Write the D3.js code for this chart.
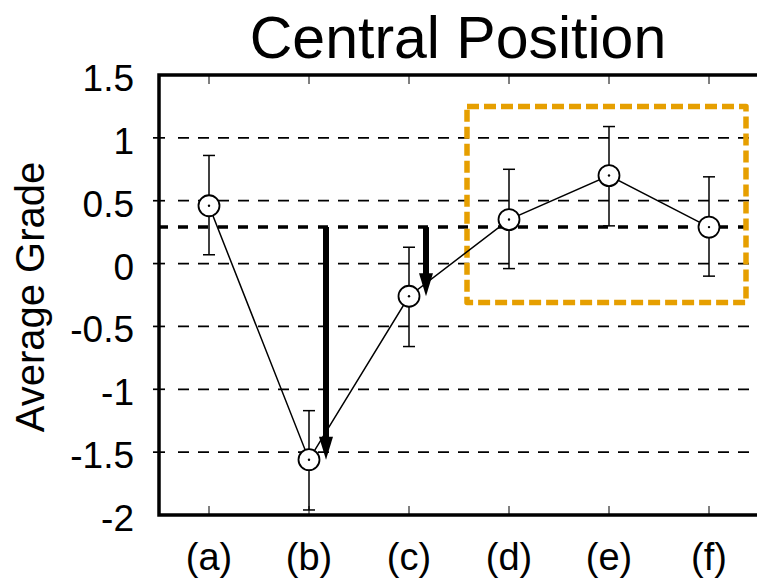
<!DOCTYPE html>
<html>
<head>
<meta charset="utf-8">
<script src="https://cdn.jsdelivr.net/npm/d3@7"></script>
<style>
  body { margin: 0; background: #fff; }
  text { font-family: "Liberation Sans", Arial, sans-serif; fill: #000; }
</style>
</head>
<body>
<div id="vis"></div>
<script>
// data
const categories = ["(a)", "(b)", "(c)", "(d)", "(e)", "(f)"];
const means = [0.46, -1.56, -0.26, 0.35, 0.70, 0.29];
const errLow = [0.07, -1.96, -0.66, -0.04, 0.30, -0.10];
const errHigh = [0.86, -1.17, 0.13, 0.75, 1.09, 0.69];
const yTicks = [1.5, 1, 0.5, 0, -0.5, -1, -1.5, -2];
const baseline = 0.29;           // thick dashed reference line
const arrowTargets = [1, 2];     // indexes of (b) and (c)
const box = { x0: 2.58, x1: 5.37, y0: -0.31, y1: 1.25 };

let width = 757;
let height = 579;

var svg = d3.select("#vis")
    .append("svg")
    .attr("width", width)
    .attr("height", height);

var x = d3.scaleLinear()
    .domain([-0.5, categories.length - 0.5])
    .range([159, 759]);

var y = d3.scaleLinear()
    .domain([-2, 1.5])
    .range([515, 75]);

var inner = yTicks.filter(d => d > -2 && d < 1.5);

// grid
svg.selectAll("line.grid")
    .data(inner)
    .enter().append("line")
    .attr("class", "grid")
    .attr("x1", 178).attr("x2", width)
    .attr("y1", d => y(d)).attr("y2", d => y(d))
    .attr("stroke", "#000")
    .attr("stroke-width", 1.7)
    .attr("stroke-dasharray", "11,9");

// small y ticks across the axis
svg.selectAll("line.ytick")
    .data(inner)
    .enter().append("line")
    .attr("class", "ytick")
    .attr("x1", 153).attr("x2", 165)
    .attr("y1", d => y(d)).attr("y2", d => y(d))
    .attr("stroke", "#000")
    .attr("stroke-width", 1.7);

// baseline
svg.append("line")
    .attr("x1", 158).attr("x2", width)
    .attr("y1", y(baseline)).attr("y2", y(baseline))
    .attr("stroke", "#000")
    .attr("stroke-width", 3.5)
    .attr("stroke-dasharray", "10,10");

// frame
svg.append("path")
    .attr("d", `M${width + 5},${y(1.5)}H${x(-0.5)}V${y(-2)}H${width + 5}`)
    .attr("fill", "none")
    .attr("stroke", "#000")
    .attr("stroke-width", 3.5);

// x ticks (top and bottom, inward)
categories.forEach(function (c, i) {
    svg.append("line")
        .attr("x1", x(i)).attr("x2", x(i))
        .attr("y1", y(-2)).attr("y2", y(-2) - 9)
        .attr("stroke", "#000").attr("stroke-width", 1);
    svg.append("line")
        .attr("x1", x(i)).attr("x2", x(i))
        .attr("y1", y(1.5)).attr("y2", y(1.5) + 9)
        .attr("stroke", "#000").attr("stroke-width", 1);
});

// x labels
svg.selectAll("text.xlab")
    .data(categories)
    .enter().append("text")
    .attr("class", "xlab")
    .attr("x", (d, i) => x(i))
    .attr("y", 570)
    .attr("text-anchor", "middle")
    .attr("font-size", 38)
    .text(d => d);

// y labels
svg.selectAll("text.ylab")
    .data(yTicks)
    .enter().append("text")
    .attr("class", "ylab")
    .attr("x", 134)
    .attr("y", d => y(d) + 16)
    .attr("text-anchor", "end")
    .attr("font-size", 37)
    .text(d => d);

// axis title
svg.append("text")
    .attr("transform", "translate(44,297) rotate(-90)")
    .attr("text-anchor", "middle")
    .attr("font-size", 40)
    .text("Average Grade");

// title
svg.append("text")
    .attr("x", 458)
    .attr("y", 58)
    .attr("text-anchor", "middle")
    .attr("font-size", 59)
    .text("Central Position");

// highlight box
svg.append("rect")
    .attr("x", x(box.x0))
    .attr("y", y(box.y1))
    .attr("width", x(box.x1) - x(box.x0))
    .attr("height", y(box.y0) - y(box.y1))
    .attr("fill", "none")
    .attr("stroke", "#E69F00")
    .attr("stroke-width", 5.5)
    .attr("stroke-linejoin", "round")
    .attr("stroke-dasharray", "12,5");

// arrows from baseline down to the value
arrowTargets.forEach(function (i) {
    var ax = x(i) + 17;
    var tip = y(means[i]);
    var headLen = 23;
    svg.append("line")
        .attr("x1", ax).attr("x2", ax)
        .attr("y1", y(baseline)).attr("y2", tip - headLen + 2)
        .attr("stroke", "#000")
        .attr("stroke-width", 6);
    svg.append("path")
        .attr("d", `M${ax - 7},${tip - headLen}L${ax + 7},${tip - headLen}L${ax},${tip}Z`)
        .attr("fill", "#000");
});

// connecting line
var line = d3.line()
    .x((d, i) => x(i))
    .y(d => y(d));

svg.append("path")
    .datum(means)
    .attr("d", line)
    .attr("fill", "none")
    .attr("stroke", "#000")
    .attr("stroke-width", 1.5);

// error bars
var bars = svg.selectAll("g.err")
    .data(means)
    .enter().append("g")
    .attr("class", "err");

bars.append("line")
    .attr("x1", (d, i) => x(i)).attr("x2", (d, i) => x(i))
    .attr("y1", (d, i) => y(errLow[i])).attr("y2", (d, i) => y(errHigh[i]))
    .attr("stroke", "#000").attr("stroke-width", 1.5);
bars.append("line")
    .attr("x1", (d, i) => x(i) - 6).attr("x2", (d, i) => x(i) + 6)
    .attr("y1", (d, i) => y(errLow[i])).attr("y2", (d, i) => y(errLow[i]))
    .attr("stroke", "#000").attr("stroke-width", 1.5);
bars.append("line")
    .attr("x1", (d, i) => x(i) - 6).attr("x2", (d, i) => x(i) + 6)
    .attr("y1", (d, i) => y(errHigh[i])).attr("y2", (d, i) => y(errHigh[i]))
    .attr("stroke", "#000").attr("stroke-width", 1.5);

// markers
bars.append("circle")
    .attr("cx", (d, i) => x(i))
    .attr("cy", d => y(d))
    .attr("r", 10.5)
    .attr("fill", "#fff")
    .attr("stroke", "#000")
    .attr("stroke-width", 1.8);
bars.append("circle")
    .attr("cx", (d, i) => x(i))
    .attr("cy", d => y(d))
    .attr("r", 1.2)
    .attr("fill", "#000");
</script>
</body>
</html>
